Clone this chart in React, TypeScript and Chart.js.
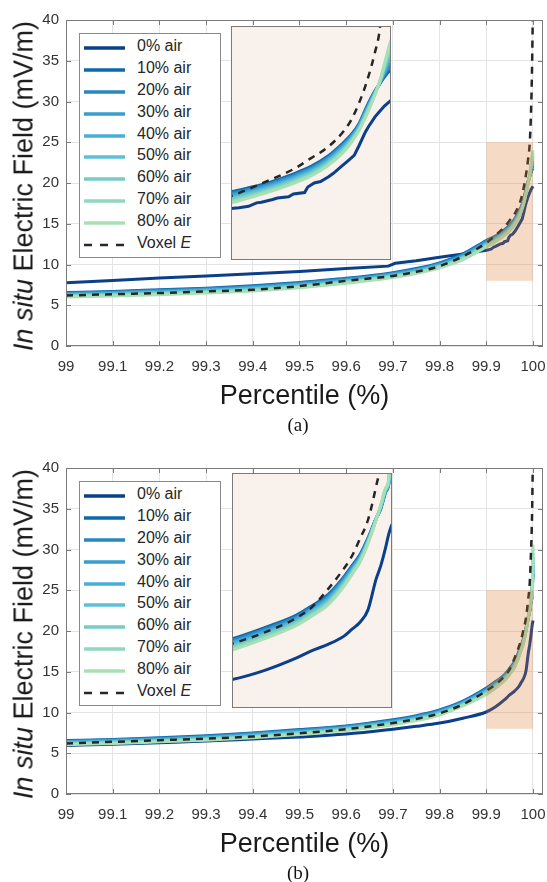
import React, { useEffect, useRef } from 'react';
import { Chart, registerables } from 'chart.js';

Chart.register(...registerables);

const FONT = "'Liberation Sans', Arial, Helvetica, sans-serif";
const SERIF = "'Liberation Serif', 'Times New Roman', serif";

// ---------- shared axes ----------
const PCT = [99, 99.1, 99.2, 99.3, 99.4, 99.5, 99.6, 99.7, 99.75, 99.8, 99.85, 99.9, 99.92, 99.94, 99.95, 99.96, 99.97, 99.975, 99.98, 99.985, 99.99, 99.993, 99.996, 99.998, 100];
const X_TICKS = [99, 99.1, 99.2, 99.3, 99.4, 99.5, 99.6, 99.7, 99.8, 99.9, 100];
const Y_TICKS = [0, 5, 10, 15, 20, 25, 30, 35, 40];
const X_RANGE = [99, 100.0215];
const Y_RANGE = [0, 40];
const ZOOM_X = [99.9, 100];
const ZOOM_Y = [8, 25];

const SERIES_LABELS = ['0% air', '10% air', '20% air', '30% air', '40% air', '50% air', '60% air', '70% air', '80% air', 'Voxel E'];
const SERIES_COLORS = ['#0b3f8a', '#0f67ac', '#2a86c1', '#3b9cce', '#44b0d6', '#5dc1d6', '#76ccc6', '#8fd7bf', '#a8e0b5', '#262626'];

// ---------- panel (a) ----------
const A_PCT_0 = [99, 99.1, 99.2, 99.3, 99.4, 99.5, 99.6, 99.69, 99.705, 99.75, 99.8, 99.85, 99.9, 99.905, 99.911, 99.916, 99.919, 99.926, 99.929, 99.936, 99.939, 99.946, 99.948, 99.952, 99.956, 99.961, 99.964, 99.969, 99.972, 99.977, 99.98, 99.984, 99.986, 99.99, 99.993, 99.996, 100];
const A_AIR_0 = [7.75, 8.05, 8.35, 8.6, 8.85, 9.15, 9.5, 9.8, 10.15, 10.45, 10.9, 11.3, 11.75, 11.8, 11.9, 12.15, 12.2, 12.4, 12.5, 12.6, 12.8, 12.9, 13.3, 13.6, 13.7, 14.05, 14.3, 14.8, 15.1, 15.6, 16.3, 17.3, 17.7, 18.4, 18.8, 19.2, 19.6];
const A_AIR_10 = [6.55, 6.70, 6.90, 7.10, 7.40, 7.80, 8.30, 9.00, 9.50, 10.20, 11.30, 12.95, 13.50, 14.30, 14.80, 15.50, 16.50, 17.10, 17.90, 19.20, 20.30, 20.80, 21.30, 21.60, 21.80];
const A_AIR_20 = [6.47, 6.62, 6.81, 7.01, 7.31, 7.71, 8.21, 8.91, 9.41, 10.11, 11.20, 12.84, 13.40, 14.20, 14.70, 15.40, 16.40, 17.01, 17.83, 19.11, 20.26, 20.83, 21.44, 21.83, 22.11];
const A_AIR_30 = [6.39, 6.54, 6.73, 6.93, 7.21, 7.61, 8.13, 8.83, 9.33, 10.03, 11.10, 12.72, 13.30, 14.10, 14.60, 15.30, 16.30, 16.93, 17.76, 19.03, 20.21, 20.86, 21.59, 22.06, 22.43];
const A_AIR_40 = [6.31, 6.46, 6.64, 6.84, 7.12, 7.52, 8.04, 8.74, 9.24, 9.94, 11.00, 12.61, 13.20, 14.00, 14.50, 15.20, 16.20, 16.84, 17.69, 18.94, 20.17, 20.89, 21.73, 22.29, 22.74];
const A_AIR_50 = [6.24, 6.39, 6.56, 6.76, 7.03, 7.43, 7.96, 8.66, 9.16, 9.86, 10.90, 12.49, 13.10, 13.90, 14.40, 15.10, 16.10, 16.76, 17.61, 18.86, 20.13, 20.91, 21.87, 22.51, 23.06];
const A_AIR_60 = [6.16, 6.31, 6.47, 6.67, 6.94, 7.34, 7.87, 8.57, 9.07, 9.77, 10.80, 12.38, 13.00, 13.80, 14.30, 15.00, 16.00, 16.67, 17.54, 18.77, 20.09, 20.94, 22.01, 22.74, 23.37];
const A_AIR_70 = [6.08, 6.23, 6.39, 6.59, 6.84, 7.24, 7.79, 8.49, 8.99, 9.69, 10.70, 12.26, 12.90, 13.70, 14.20, 14.90, 15.90, 16.59, 17.47, 18.69, 20.04, 20.97, 22.16, 22.97, 23.69];
const A_AIR_80 = [6.00, 6.15, 6.30, 6.50, 6.75, 7.15, 7.70, 8.40, 8.90, 9.60, 10.60, 12.15, 12.80, 13.60, 14.10, 14.80, 15.80, 16.50, 17.40, 18.60, 20.00, 21.00, 22.30, 23.20, 24.00];
const A_VOXEL = [6.20, 6.35, 6.50, 6.70, 6.90, 7.35, 8.00, 8.60, 9.10, 9.80, 11.00, 12.65, 13.60, 14.66, 15.40, 16.15, 17.30, 18.15, 19.40, 21.00, 23.10, 24.80, 29.00, 34.00, 42.00];

// ---------- panel (b) ----------
const B_AIR_0 = [5.95, 6.10, 6.30, 6.50, 6.75, 7.00, 7.35, 7.95, 8.30, 8.70, 9.30, 10.06, 10.70, 11.60, 12.15, 12.60, 13.20, 13.70, 14.20, 15.10, 17.30, 18.30, 19.60, 20.60, 21.30];
const B_AIR_10 = [6.55, 6.70, 6.90, 7.15, 7.50, 7.90, 8.35, 9.10, 9.60, 10.30, 11.40, 13.00, 13.80, 14.70, 15.40, 16.20, 17.50, 18.30, 19.10, 20.30, 21.70, 22.40, 23.60, 24.20, 27.00];
const B_AIR_20 = [6.48, 6.63, 6.83, 7.07, 7.41, 7.81, 8.27, 9.01, 9.51, 10.21, 11.31, 12.89, 13.69, 14.59, 15.29, 16.09, 17.40, 18.21, 19.02, 20.24, 21.69, 22.44, 23.64, 24.26, 27.51];
const B_AIR_30 = [6.41, 6.56, 6.76, 6.99, 7.33, 7.73, 8.19, 8.93, 9.43, 10.13, 11.23, 12.77, 13.57, 14.49, 15.19, 15.99, 17.30, 18.11, 18.94, 20.19, 21.67, 22.49, 23.69, 24.31, 28.03];
const B_AIR_40 = [6.34, 6.49, 6.69, 6.91, 7.24, 7.64, 8.11, 8.84, 9.34, 10.04, 11.14, 12.66, 13.46, 14.38, 15.08, 15.88, 17.20, 18.02, 18.86, 20.13, 21.66, 22.53, 23.73, 24.37, 28.54];
const B_AIR_50 = [6.26, 6.41, 6.61, 6.84, 7.16, 7.56, 8.04, 8.76, 9.26, 9.96, 11.06, 12.54, 13.34, 14.27, 14.97, 15.77, 17.10, 17.93, 18.79, 20.07, 21.64, 22.57, 23.77, 24.43, 29.06];
const B_AIR_60 = [6.19, 6.34, 6.54, 6.76, 7.07, 7.47, 7.96, 8.67, 9.17, 9.87, 10.97, 12.43, 13.23, 14.16, 14.86, 15.66, 17.00, 17.84, 18.71, 20.01, 21.63, 22.61, 23.81, 24.49, 29.57];
const B_AIR_70 = [6.12, 6.27, 6.47, 6.68, 6.99, 7.39, 7.88, 8.59, 9.09, 9.79, 10.89, 12.31, 13.11, 14.06, 14.76, 15.56, 16.90, 17.74, 18.63, 19.96, 21.61, 22.66, 23.86, 24.54, 30.09];
const B_AIR_80 = [6.05, 6.20, 6.40, 6.60, 6.90, 7.30, 7.80, 8.50, 9.00, 9.70, 10.80, 12.20, 13.00, 13.95, 14.65, 15.45, 16.80, 17.65, 18.55, 19.90, 21.60, 22.70, 23.90, 24.60, 30.60];
const B_VOXEL = [6.20, 6.40, 6.60, 6.80, 7.05, 7.45, 7.95, 8.70, 9.20, 9.90, 11.00, 12.65, 13.45, 14.50, 15.30, 16.60, 18.10, 19.00, 20.25, 21.60, 24.00, 25.80, 30.00, 34.00, 42.00];

const fmtTick = (v: number) =>
  Math.abs(v - Math.round(v)) < 1e-9 ? String(Math.round(v)) : v.toFixed(1);

function makeDatasets(values: number[][], pct0: number[], jagged0: boolean) {
  const n = SERIES_LABELS.length;
  return SERIES_LABELS.map((label, i) => {
    const xs = i === 0 ? pct0 : PCT;
    const vals = values[i];
    const isVoxel = i === n - 1;
    const straight = i === 0 && jagged0;
    return {
      label,
      data: xs.map((x, k) => ({ x, y: vals[k] })),
      borderColor: SERIES_COLORS[i],
      backgroundColor: SERIES_COLORS[i],
      borderWidth: isVoxel ? 2.5 : 3,
      borderDash: isVoxel ? [7, 6] : [],
      pointRadius: 0,
      fill: false,
      tension: straight ? 0 : 0.4,
      cubicInterpolationMode: straight ? 'default' : 'monotone',
      clip: 0,
      order: isVoxel ? 0 : n - 1 - i,
    };
  });
}

const axesPlugin = {
  id: 'matlabAxes',
  afterDatasetsDraw(chart: any) {
    const { ctx, scales } = chart;
    const x = scales.x, y = scales.y;
    const x0 = x.getPixelForValue(ZOOM_X[0]);
    const x1 = x.getPixelForValue(ZOOM_X[1]);
    const y0 = y.getPixelForValue(ZOOM_Y[1]);
    const y1 = y.getPixelForValue(ZOOM_Y[0]);
    ctx.save();
    ctx.fillStyle = 'rgba(217,113,36,0.26)';
    ctx.fillRect(x0, y0, x1 - x0, y1 - y0);
    ctx.restore();
  },
  afterDraw(chart: any) {
    const { ctx, chartArea: a, scales } = chart;
    const x = scales.x, y = scales.y;
    ctx.save();
    ctx.strokeStyle = '#7a7a7a';
    ctx.lineWidth = 1;
    ctx.strokeRect(a.left + 0.5, a.top + 0.5, a.right - a.left - 1, a.bottom - a.top - 1);
    ctx.beginPath();
    for (const v of X_TICKS) {
      const px = Math.round(x.getPixelForValue(v)) + 0.5;
      ctx.moveTo(px, a.bottom);
      ctx.lineTo(px, a.bottom - 5);
      ctx.moveTo(px, a.top);
      ctx.lineTo(px, a.top + 5);
    }
    for (const v of Y_TICKS) {
      const py = Math.round(y.getPixelForValue(v)) + 0.5;
      ctx.moveTo(a.left, py);
      ctx.lineTo(a.left + 5, py);
      ctx.moveTo(a.right, py);
      ctx.lineTo(a.right - 5, py);
    }
    ctx.stroke();
    ctx.restore();
  },
};

const insetPlugin = {
  id: 'insetFrame',
  beforeDraw(chart: any) {
    const { ctx, chartArea: a } = chart;
    ctx.save();
    ctx.fillStyle = '#f8f1ec';
    ctx.fillRect(a.left, a.top, a.right - a.left, a.bottom - a.top);
    ctx.restore();
  },
  afterDraw(chart: any) {
    const { ctx, chartArea: a } = chart;
    ctx.save();
    ctx.strokeStyle = '#7a7a7a';
    ctx.lineWidth = 1;
    ctx.strokeRect(a.left + 0.5, a.top + 0.5, a.right - a.left - 1, a.bottom - a.top - 1);
    ctx.restore();
  },
};

const MAIN_H = 430;

function mainConfig(datasets: any[]): any {
  return {
    type: 'line',
    data: { datasets },
    options: {
      animation: false,
      responsive: false,
      events: [],
      layout: { padding: { top: 20, right: 4, left: 0, bottom: 0 } },
      plugins: { legend: { display: false }, tooltip: { enabled: false } },
      scales: {
        x: {
          type: 'linear',
          min: X_RANGE[0],
          max: X_RANGE[1],
          afterBuildTicks: (s: any) => { s.ticks = X_TICKS.map((v) => ({ value: v })); },
          afterFit: (s: any) => { s.height = MAIN_H - 346; s.paddingLeft = 0; s.paddingRight = 0; },
          grid: { color: '#e4e4e4', lineWidth: 1, drawTicks: false },
          border: { display: false },
          ticks: {
            padding: 12, color: '#333', autoSkip: false, maxRotation: 0,
            font: { family: FONT, size: 15 },
            callback: (v: any) => fmtTick(Number(v)),
          },
          title: {
            display: true, text: 'Percentile (%)', color: '#1a1a1a',
            font: { family: FONT, size: 27 }, padding: { top: 0, bottom: 17 },
          },
        },
        y: {
          type: 'linear',
          min: Y_RANGE[0],
          max: Y_RANGE[1],
          afterBuildTicks: (s: any) => { s.ticks = Y_TICKS.map((v) => ({ value: v })); },
          afterFit: (s: any) => { s.width = 66; s.paddingTop = 0; s.paddingBottom = 0; },
          grid: { color: '#e4e4e4', lineWidth: 1, drawTicks: false },
          border: { display: false },
          ticks: { padding: 7, color: '#333', font: { family: FONT, size: 15 } },
        },
      },
    },
    plugins: [axesPlugin],
  };
}

function insetConfig(datasets: any[]): any {
  return {
    type: 'line',
    data: { datasets },
    options: {
      animation: false,
      responsive: false,
      events: [],
      layout: { padding: 0 },
      plugins: { legend: { display: false }, tooltip: { enabled: false } },
      scales: {
        x: { type: 'linear', min: ZOOM_X[0], max: ZOOM_X[1], display: false },
        y: { type: 'linear', min: ZOOM_Y[0], max: ZOOM_Y[1], display: false },
      },
    },
    plugins: [insetPlugin],
  };
}

function Legend({ top }: { top: number }) {
  return (
    <div
      style={{
        position: 'absolute', left: 79, top: top + 33, width: 142, height: 225,
        boxSizing: 'border-box', border: '1px solid #8a8a8a', background: '#fff',
      }}
    >
      {SERIES_LABELS.map((label, i) => {
        const isVoxel = i === SERIES_LABELS.length - 1;
        const cy = 13.7 + i * 21.95;
        return (
          <div key={label} style={{ position: 'absolute', left: 0, top: cy - 11, height: 22, width: 140 }}>
            <svg width={41} height={6} style={{ position: 'absolute', left: 4, top: 8 }}>
              <line
                x1={0} y1={3} x2={41} y2={3}
                stroke={SERIES_COLORS[i]} strokeWidth={isVoxel ? 2.5 : 3.5}
                strokeDasharray={isVoxel ? '8 8' : undefined}
              />
            </svg>
            <span
              style={{
                position: 'absolute', left: 57, top: 0, lineHeight: '22px',
                font: `16px ${FONT}`, color: '#262626', whiteSpace: 'nowrap',
              }}
            >
              {isVoxel ? (<>Voxel <i>E</i></>) : label}
            </span>
          </div>
        );
      })}
    </div>
  );
}

type PanelProps = {
  top: number;
  values: number[][];
  pct0: number[];
  jagged0: boolean;
  inset: { x: number; y: number; w: number; h: number };
  caption: string;
};

function Panel({ top, values, pct0, jagged0, inset, caption }: PanelProps) {
  const mainRef = useRef<HTMLCanvasElement>(null);
  const insetRef = useRef<HTMLCanvasElement>(null);

  useEffect(() => {
    const main = new Chart(mainRef.current as HTMLCanvasElement, mainConfig(makeDatasets(values, pct0, jagged0)));
    const ins = new Chart(insetRef.current as HTMLCanvasElement, insetConfig(makeDatasets(values, pct0, jagged0)));
    return () => { main.destroy(); ins.destroy(); };
  }, []);

  return (
    <>
      <canvas
        ref={mainRef} width={547} height={MAIN_H}
        style={{ position: 'absolute', left: 0, top, width: 547, height: MAIN_H }}
      />
      <div
        style={{
          position: 'absolute', left: 24, top: top + 186,
          transform: 'translate(-50%, -50%) rotate(-90deg)',
          whiteSpace: 'nowrap', font: `27px ${FONT}`, lineHeight: 1, color: '#1a1a1a',
        }}
      >
        <i>In situ</i> Electric Field (mV/m)
      </div>
      <canvas
        ref={insetRef} width={inset.w} height={inset.h}
        style={{ position: 'absolute', left: inset.x, top: top + inset.y, width: inset.w, height: inset.h }}
      />
      <Legend top={top} />
      <div
        style={{
          position: 'absolute', left: 298, top: top + 425,
          transform: 'translate(-50%, -50%)', font: `19px ${SERIF}`, color: '#111', whiteSpace: 'nowrap',
        }}
      >
        {caption}
      </div>
    </>
  );
}

export default function App() {
  const valuesA = [A_AIR_0, A_AIR_10, A_AIR_20, A_AIR_30, A_AIR_40, A_AIR_50, A_AIR_60, A_AIR_70, A_AIR_80, A_VOXEL];
  const valuesB = [B_AIR_0, B_AIR_10, B_AIR_20, B_AIR_30, B_AIR_40, B_AIR_50, B_AIR_60, B_AIR_70, B_AIR_80, B_VOXEL];
  return (
    <div style={{ position: 'absolute', left: 0, top: 0, width: 547, height: 882, background: '#fff', overflow: 'hidden' }}>
      <Panel top={0} values={valuesA} pct0={A_PCT_0} jagged0={true} inset={{ x: 231, y: 26, w: 160, h: 234 }} caption="(a)" />
      <Panel top={448} values={valuesB} pct0={PCT} jagged0={false} inset={{ x: 232, y: 25, w: 160, h: 235 }} caption="(b)" />
    </div>
  );
}
